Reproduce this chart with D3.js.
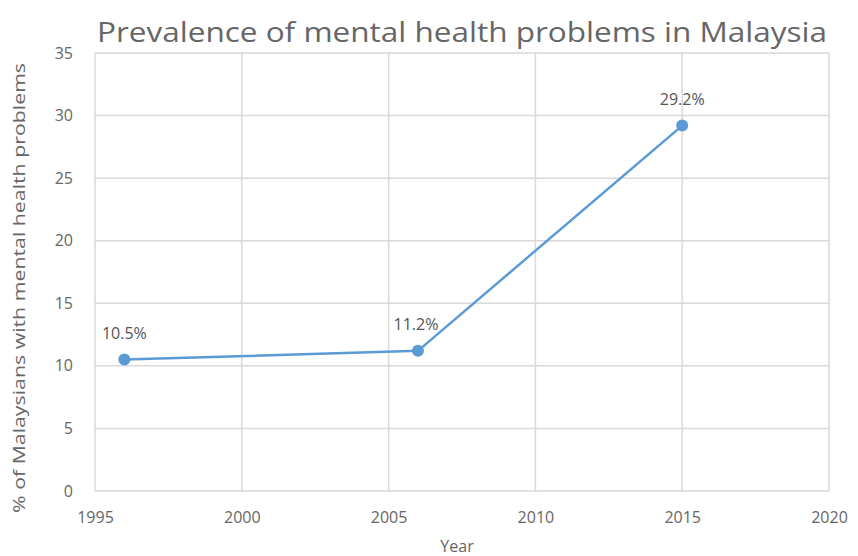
<!DOCTYPE html>
<html><head><meta charset="utf-8">
<script src="https://cdn.jsdelivr.net/npm/d3@7"></script>
<style>body{margin:0;background:#fff}svg{display:block}</style>
</head><body>
<script>
const years = [1996, 2006, 2015];
const values = [10.5, 11.2, 29.2];
const labels = ["10.5%", "11.2%", "29.2%"];
const xTicks = [1995, 2000, 2005, 2010, 2015, 2020];
const yTicks = [0, 5, 10, 15, 20, 25, 30, 35];

const W = 858, H = 556;
const font = "'Open Sans', 'Noto Sans', sans-serif";
const svg = d3.select("body").append("svg").attr("width", W).attr("height", H);
const x = d3.scaleLinear().domain([1995, 2020]).range([95, 829]);
const y = d3.scaleLinear().domain([0, 35]).range([491, 53]);

const grid = svg.append("g").attr("stroke", "#d9d9d9").attr("stroke-width", 1.5);
grid.selectAll(".h").data(yTicks).join("line")
  .attr("x1", x(1995)).attr("x2", x(2020)).attr("y1", d => y(d)).attr("y2", d => y(d));
grid.selectAll(".v").data(xTicks).join("line")
  .attr("y1", y(0)).attr("y2", y(35)).attr("x1", d => x(d)).attr("x2", d => x(d));

const xAxis = svg.append("g").attr("transform", `translate(0,${y(0)})`)
  .call(d3.axisBottom(x).tickValues(xTicks).tickFormat(d3.format("d")).tickSize(0).tickPadding(21));
const yAxis = svg.append("g").attr("transform", `translate(${x(1995)},0)`)
  .call(d3.axisLeft(y).tickValues(yTicks).tickSize(0).tickPadding(22));
[xAxis, yAxis].forEach(a => {
  a.select(".domain").remove();
  a.selectAll("text").attr("fill", "#666").style("font-family", font).style("font-size", "16px");
});

const line = d3.line().x((d, i) => x(years[i])).y(d => y(d));
svg.append("path").datum(values).attr("d", line).attr("fill", "none")
  .attr("stroke", "#5b9bd5").attr("stroke-width", 2.5);
svg.selectAll(".pt").data(values).join("circle")
  .attr("cx", (d, i) => x(years[i])).attr("cy", d => y(d)).attr("r", 6)
  .attr("fill", "#5b9bd5");

svg.selectAll(".lbl").data(values).join("text")
  .attr("x", (d, i) => x(years[i]) - (i === 1 ? 2 : 0)).attr("y", d => y(d) - 21)
  .attr("text-anchor", "middle").attr("fill", "#555")
  .style("font-family", font).style("font-size", "16px")
  .text((d, i) => labels[i]);

svg.append("text").attr("x", 462).attr("y", 42).attr("text-anchor", "middle")
  .attr("fill", "#666").style("font-family", font).style("font-size", "27px")
  .attr("textLength", 730).attr("lengthAdjust", "spacingAndGlyphs")
  .text("Prevalence of mental health problems in Malaysia");

svg.append("text").attr("x", 457).attr("y", 552).attr("text-anchor", "middle")
  .attr("fill", "#666").style("font-family", font).style("font-size", "16px").text("Year");

svg.append("text").attr("transform", `translate(25,${(y(0) + y(35)) / 2 + 16}) rotate(-90)`)
  .attr("text-anchor", "middle").attr("fill", "#666")
  .style("font-family", font).style("font-size", "16px")
  .attr("textLength", 450).attr("lengthAdjust", "spacingAndGlyphs")
  .text("% of Malaysians with mental health problems");
</script>
</body></html>
